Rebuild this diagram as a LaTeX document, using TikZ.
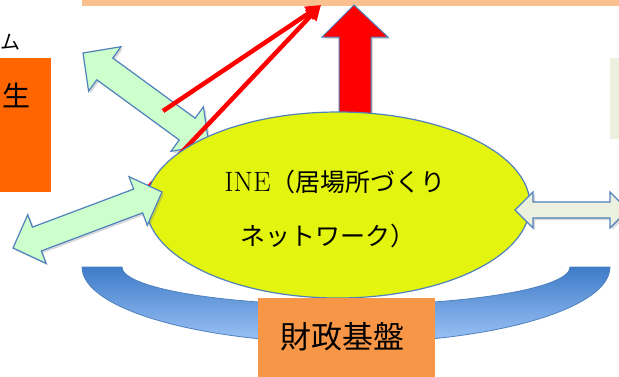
\documentclass[tikz,border=0pt]{standalone}
\usepackage{fontspec}
\newfontfamily\jp{Noto Sans CJK JP}
\usetikzlibrary{calc,shapes.geometric,shadows,arrows.meta}
\definecolor{peach}{HTML}{FAC090}
\definecolor{orgA}{HTML}{FF6600}
\definecolor{orgB}{HTML}{F79646}
\definecolor{paleG}{HTML}{EBF1DE}
\definecolor{mint}{HTML}{CCFFCC}
\definecolor{bdr}{HTML}{4F81BD}
\definecolor{ylw}{HTML}{E3F50F}
\definecolor{bandtop}{HTML}{3F7CC8}
\definecolor{bandbot}{HTML}{9DC3F7}
% #1=A #2=B #3=shaft half width #4=head half width #5=head length #6=style
\newcommand{\blockdbl}[6]{%
\path[#6] (#1) -- ($(#1)!#5!(#2)!#4!90:(#2)$) -- ($(#1)!#5!(#2)!#3!90:(#2)$)
 -- ($(#2)!#5!(#1)!#3!-90:(#1)$) -- ($(#2)!#5!(#1)!#4!-90:(#1)$) -- (#2)
 -- ($(#2)!#5!(#1)!#4!90:(#1)$) -- ($(#2)!#5!(#1)!#3!90:(#1)$)
 -- ($(#1)!#5!(#2)!#3!-90:(#2)$) -- ($(#1)!#5!(#2)!#4!-90:(#2)$) -- cycle;}
\tikzset{
  garrow/.style={fill=mint, draw=bdr, line width=1.2pt, line join=miter,
     drop shadow={opacity=0.3, shadow xshift=2pt, shadow yshift=-2pt}},
  parrow/.style={fill=paleG, draw=bdr, line width=1.2pt, line join=miter,
     drop shadow={opacity=0.3, shadow xshift=2pt, shadow yshift=-2pt}},
  redline/.style={draw=red, line width=4.5pt, -{Triangle[length=15pt,width=15pt]}},
  jtext/.style={inner sep=0pt, font=\jp\fontsize{25}{27}\selectfont},
}
\begin{document}
\begin{tikzpicture}[x=1pt,y=-1pt]
\useasboundingbox (0,0) rectangle (619,376);
\clip (0,0) rectangle (619,376);
% top bar and side boxes
\fill[peach] (82,0) rectangle (619,6);
\fill[paleG] (610,58) rectangle (619,139);
\node[fill=orgA, inner sep=0pt, minimum width=51pt, minimum height=134pt, anchor=north west] (lbox) at (0,58) {};
\node[inner sep=0pt, font=\jp\fontsize{28}{30}\selectfont] (sei) at (16,95) {生};
\node[inner sep=0pt, anchor=east, font=\jp\fontsize{20}{22}\selectfont] (mu) at (21,42) {ム};
% upper-left double arrow
\coordinate (ula) at (83,53);
\coordinate (ulb) at (209,145);
\blockdbl{ula}{ulb}{13.5pt}{27.5pt}{27pt}{garrow}
% red block arrow
\path[fill=red, draw=bdr, line width=1pt, line join=miter,
      drop shadow={opacity=0.3, shadow xshift=2pt, shadow yshift=-2pt}]
  (339,116) -- (339,37) -- (322,37) -- (354,5) -- (388,37) -- (371,37) -- (371,116) -- cycle;
% red thin arrows
\coordinate (rtip) at (321,5);
\coordinate (r1) at (163,111);
\coordinate (r2) at (146,190);
\draw[redline] (r1) -- (rtip);
\draw[redline] (r2) -- (rtip);
% financial band
\path[draw=bdr, line width=0.8pt, top color=bandtop, bottom color=bandbot]
  (82,267) arc[start angle=180, end angle=360, x radius=264pt, y radius=76pt]
  -- (570,267) arc[start angle=0, end angle=-180, x radius=224pt, y radius=38pt] -- cycle;
% ellipse
\node[ellipse, draw=bdr, line width=1.2pt, fill=ylw, minimum width=384pt, minimum height=186pt, inner sep=0pt] (ine) at (338,205) {};
\node[inner sep=0pt, font=\fontsize{28}{30}\selectfont] (t1) at (335,182) {INE{\jp\fontsize{25}{27}\selectfont（居場所づくり}};
\node[jtext] (t2) at (328,236) {ネットワーク）};
% lower-left and right double arrows
\coordinate (lla) at (13,248);
\coordinate (llb) at (162,192);
\blockdbl{lla}{llb}{12.7pt}{26pt}{25.5pt}{garrow}
\coordinate (rra) at (515,210);
\coordinate (rrb) at (628,210);
\blockdbl{rra}{rrb}{8pt}{18pt}{18pt}{parrow}
% bottom box
\node[fill=orgB, inner sep=0pt, minimum width=177pt, minimum height=82pt, anchor=north west] (zbox) at (258,298) {};
\node[inner sep=0pt, font=\jp\fontsize{31}{33}\selectfont] (zai) at (342,337) {財政基盤};
\end{tikzpicture}
\end{document}
